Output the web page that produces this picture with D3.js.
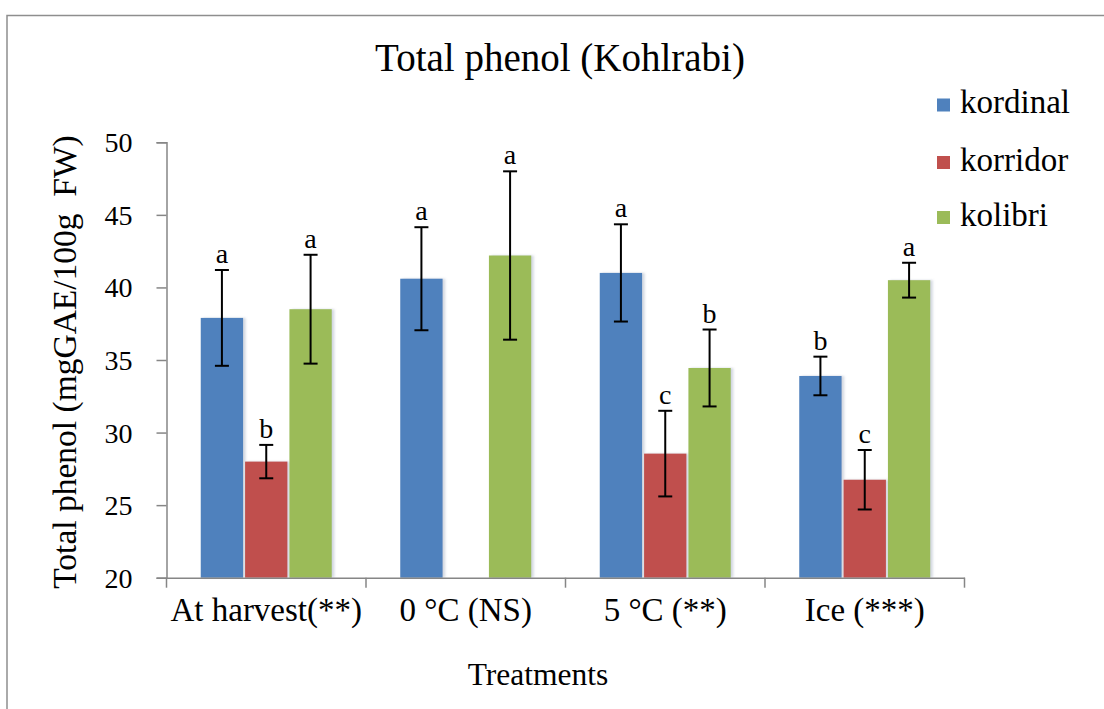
<!DOCTYPE html>
<html>
<head>
<meta charset="utf-8">
<script src="https://cdn.jsdelivr.net/npm/d3@7"></script>
<style>
  html, body { margin: 0; padding: 0; background: #fff; }
  svg { display: block; }
  svg text { font-family: "Liberation Serif", "Times New Roman", serif !important; fill: #000; }
</style>
</head>
<body>
<div id="chart"></div>
<script>
// Total phenol content of three kohlrabi cultivars under four storage treatments
const categories = ["At harvest(**)", "0 °C (NS)", "5 °C (**)", "Ice (***)"];
const seriesNames = ["kordinal", "korridor", "kolibri"];
const seriesColors = ["#4F81BD", "#C0504D", "#9BBB59"];

// mean values (mgGAE/100g FW); null = not measured
const kordinal = [37.9, 40.6, 41.0, 33.9];
const korridor = [28.0, null, 28.55, 26.75];
const kolibri  = [38.5, 42.2, 34.45, 40.5];

// standard errors
const kordinalErr = [3.3, 3.55, 3.35, 1.33];
const korridorErr = [1.15, null, 2.95, 2.05];
const kolibriErr  = [3.75, 5.8, 2.65, 1.2];

// significance letters
const kordinalSig = ["a", "a", "a", "b"];
const korridorSig = ["b", "", "c", "c"];
const kolibriSig  = ["a", "a", "b", "a"];

const yTicks = [20, 25, 30, 35, 40, 45, 50];

const W = 1104, H = 709;
const plot = { left: 166.5, right: 964.5, top: 142.3, bottom: 577.7 };
const SERIF = '"Liberation Serif", "Times New Roman", serif';

const svg = d3.select("#chart").append("svg")
  .attr("width", W).attr("height", H)
  .attr("font-family", SERIF);

// soft shadow behind bars
const defs = svg.append("defs");
const f = defs.append("filter").attr("id", "shadow")
  .attr("x", "-20%").attr("y", "-5%").attr("width", "140%").attr("height", "110%");
f.append("feDropShadow").attr("dx", 2.5).attr("dy", 0)
  .attr("stdDeviation", 1.2).attr("flood-color", "#7f8fa6").attr("flood-opacity", 0.35);

// outer frame
svg.append("path")
  .attr("d", `M7,${H} L7,15.5 L${W},15.5`)
  .attr("fill", "none").attr("stroke", "#8e8e8e").attr("stroke-width", 1.5);

const x0 = d3.scaleBand().domain(categories).range([plot.left, plot.right]).paddingInner(0);
const groupW = x0.bandwidth() * 3 / 4.5;
const x1 = d3.scaleBand().domain(seriesNames).range([0, groupW]).padding(0);
const y = d3.scaleLinear().domain([20, 50]).range([plot.bottom, plot.top]);

const data = seriesNames.map((name, i) => ({
  name,
  color: seriesColors[i],
  values: [kordinal, korridor, kolibri][i],
  errs: [kordinalErr, korridorErr, kolibriErr][i],
  sig: [kordinalSig, korridorSig, kolibriSig][i]
}));

const groupOffset = (x0.bandwidth() - groupW) / 2;

const records = [];
data.forEach(s => {
  categories.forEach((c, j) => {
    if (s.values[j] == null) return;
    records.push({ series: s.name, color: s.color, cat: c, v: s.values[j], e: s.errs[j], sig: s.sig[j] });
  });
});

const bx = d => x0(d.cat) + groupOffset + x1(d.series);
const bw = x1.bandwidth();

// bars
svg.append("g").selectAll("rect").data(records).join("rect")
  .attr("x", d => bx(d) + 1)
  .attr("y", d => y(d.v))
  .attr("width", bw - 2)
  .attr("height", d => y(20) - y(d.v))
  .attr("fill", d => d.color)
  .attr("filter", "url(#shadow)");

// axes
const yAxis = d3.axisLeft(y).tickValues(yTicks).tickSize(10).tickPadding(23);
const gy = svg.append("g").attr("transform", `translate(${plot.left},0)`).call(yAxis)
  .attr("font-family", SERIF).attr("font-size", 28);
gy.select(".domain").attr("stroke", "#868686").attr("stroke-width", 1.5);
gy.selectAll(".tick line").attr("stroke", "#868686").attr("stroke-width", 1.5);
gy.selectAll(".tick text").attr("fill", "#000").attr("x", -34).attr("dy", "0.34em");

const xAxis = d3.axisBottom(x0).tickSize(0).tickPadding(20);
const gx = svg.append("g").attr("transform", `translate(0,${plot.bottom})`).call(xAxis)
  .attr("font-family", SERIF).attr("font-size", 33);
gx.select(".domain").attr("stroke", "#868686").attr("stroke-width", 1.5);
gx.selectAll(".tick text").attr("fill", "#000").attr("dy", "0.71em");
// category boundary ticks
gx.append("g").selectAll("line")
  .data(categories.map(c => x0(c)).concat([x0(categories[categories.length - 1]) + x0.bandwidth()]))
  .join("line")
  .attr("x1", d => d).attr("x2", d => d)
  .attr("y1", 0).attr("y2", 10)
  .attr("stroke", "#868686").attr("stroke-width", 1.5);

// error bars
const eb = svg.append("g").attr("stroke", "#000").attr("stroke-width", 2);
records.forEach(d => {
  const cx = bx(d) + bw / 2;
  eb.append("line").attr("x1", cx).attr("x2", cx).attr("y1", y(d.v + d.e)).attr("y2", y(d.v - d.e));
  eb.append("line").attr("x1", cx - 7).attr("x2", cx + 7).attr("y1", y(d.v + d.e)).attr("y2", y(d.v + d.e));
  eb.append("line").attr("x1", cx - 7).attr("x2", cx + 7).attr("y1", y(d.v - d.e)).attr("y2", y(d.v - d.e));
});

// significance letters
svg.append("g").attr("font-size", 28).selectAll("text").data(records.filter(d => d.sig)).join("text")
  .attr("x", d => bx(d) + bw / 2)
  .attr("y", d => y(d.v + d.e) - 7)
  .attr("text-anchor", "middle")
  .text(d => d.sig);

// title
svg.append("text").attr("x", 560).attr("y", 71).attr("text-anchor", "middle")
  .attr("font-size", 39).text("Total phenol (Kohlrabi)");

// axis titles
svg.append("text").attr("x", 538).attr("y", 685).attr("text-anchor", "middle")
  .attr("font-size", 31.5).text("Treatments");
svg.append("text")
  .attr("transform", "translate(76,362) rotate(-90)")
  .attr("text-anchor", "middle")
  .attr("font-size", 33.5).style("white-space", "pre")
  .text("Total phenol (mgGAE/100g  FW)");

// legend
const legend = svg.append("g").attr("font-size", 33);
const legendY = [113, 170.5, 225.5];
seriesNames.forEach((n, i) => {
  legend.append("rect").attr("x", 937).attr("y", legendY[i] - 14.5)
    .attr("width", 13).attr("height", 13).attr("fill", seriesColors[i]);
  legend.append("text").attr("x", 960).attr("y", legendY[i]).text(n);
});
</script>
</body>
</html>
